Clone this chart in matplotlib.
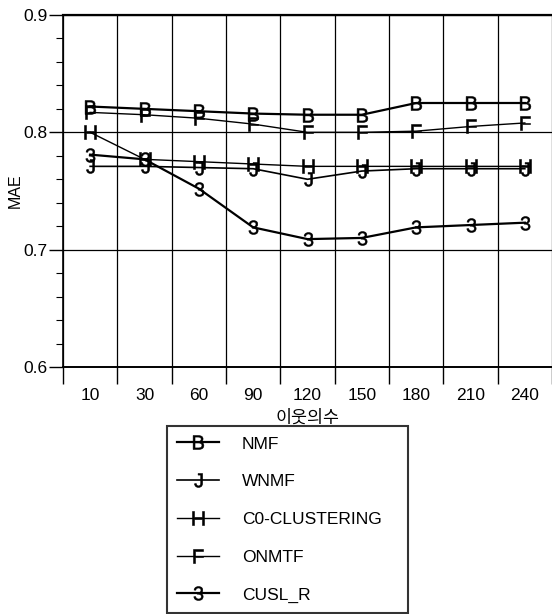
import matplotlib
matplotlib.use('Agg')
import matplotlib.pyplot as plt
import numpy as np

plt.rcParams['font.family'] = ['Liberation Sans', 'Noto Sans CJK KR', 'DejaVu Sans']
plt.rcParams['mathtext.fontset'] = 'custom'
plt.rcParams['mathtext.rm'] = 'Liberation Sans'

# 데이터
neighbors = ['10', '30', '60', '90', '120', '150', '180', '210', '240']
nmf = [0.822, 0.820, 0.818, 0.816, 0.815, 0.815, 0.825, 0.825, 0.825]
wnmf = [0.771, 0.771, 0.770, 0.769, 0.760, 0.767, 0.769, 0.769, 0.769]
co_clustering = [0.800, 0.777, 0.775, 0.773, 0.771, 0.771, 0.771, 0.771, 0.771]
onmtf = [0.817, 0.815, 0.812, 0.807, 0.800, 0.800, 0.801, 0.805, 0.808]
cusl_r = [0.781, 0.777, 0.752, 0.719, 0.709, 0.710, 0.719, 0.721, 0.723]

series = [
    ('NMF', nmf, 'B', 1.6),
    ('WNMF', wnmf, 'J', 1.2),
    ('C0-CLUSTERING', co_clustering, 'H', 1.0),
    ('ONMTF', onmtf, 'F', 1.0),
    ('CUSL_R', cusl_r, '3', 1.6),
]

fig = plt.figure(figsize=(5.52, 6.14), dpi=100)
ax = fig.add_axes([63/552, 1 - 367/614, 1 - 63/552, (367 - 15)/614])

x = np.arange(len(neighbors))
handles = []
for name, vals, letter, lw in series:
    h, = ax.plot(x, vals, color='black', lw=lw,
                 marker=r'$\mathrm{%s}$' % letter, markersize=10,
                 markeredgewidth=0.4, label=name)
    handles.append(h)

ax.set_xlim(-0.5, len(neighbors) - 0.5)
ax.set_ylim(0.6, 0.9)

ax.set_xticks(x)
ax.set_xticklabels(neighbors, fontsize=12.5)
ax.set_xticks(np.arange(-0.5, len(neighbors), 1), minor=True)
ax.tick_params(axis='x', which='major', length=0, pad=15)
ax.tick_params(axis='x', which='minor', length=12, width=1, direction='out')
ax.grid(True, axis='x', which='minor', color='black', lw=0.9)

ax.set_yticks([0.6, 0.7, 0.8, 0.9])
ax.set_yticklabels(['0.6', '0.7', '0.8', '0.9'], fontsize=12.5)
ax.set_yticks(np.arange(0.6, 0.9, 0.02), minor=True)
ax.tick_params(axis='y', which='major', length=10, width=1, pad=1)
ax.tick_params(axis='y', which='minor', length=5, width=0.8)
ax.grid(True, axis='y', which='major', color='black', lw=0.9)

ax.spines['right'].set_visible(False)
ax.spines['top'].set_linewidth(1.6)
ax.spines['left'].set_linewidth(1.2)
ax.spines['bottom'].set_linewidth(1.4)

ax.set_xlabel('이웃의수', fontsize=12.5, family=['Noto Sans CJK KR'], labelpad=4)
ax.set_ylabel('MAE', fontsize=11.5)
ax.yaxis.set_label_coords(-0.082, 0.5)

leg = fig.legend(handles=handles, loc='lower left',
                 bbox_to_anchor=(167/552, 1/614, (408 - 167)/552, (613 - 426)/614),
                 mode='expand', fontsize=12.5, numpoints=1, handlelength=2.4,
                 labelspacing=1.3, borderpad=0.6, handletextpad=1.3,
                 borderaxespad=0, fancybox=False, frameon=True)
leg.get_frame().set_edgecolor('black')
leg.get_frame().set_linewidth(1.5)

fig.savefig('out.png', dpi=100)
